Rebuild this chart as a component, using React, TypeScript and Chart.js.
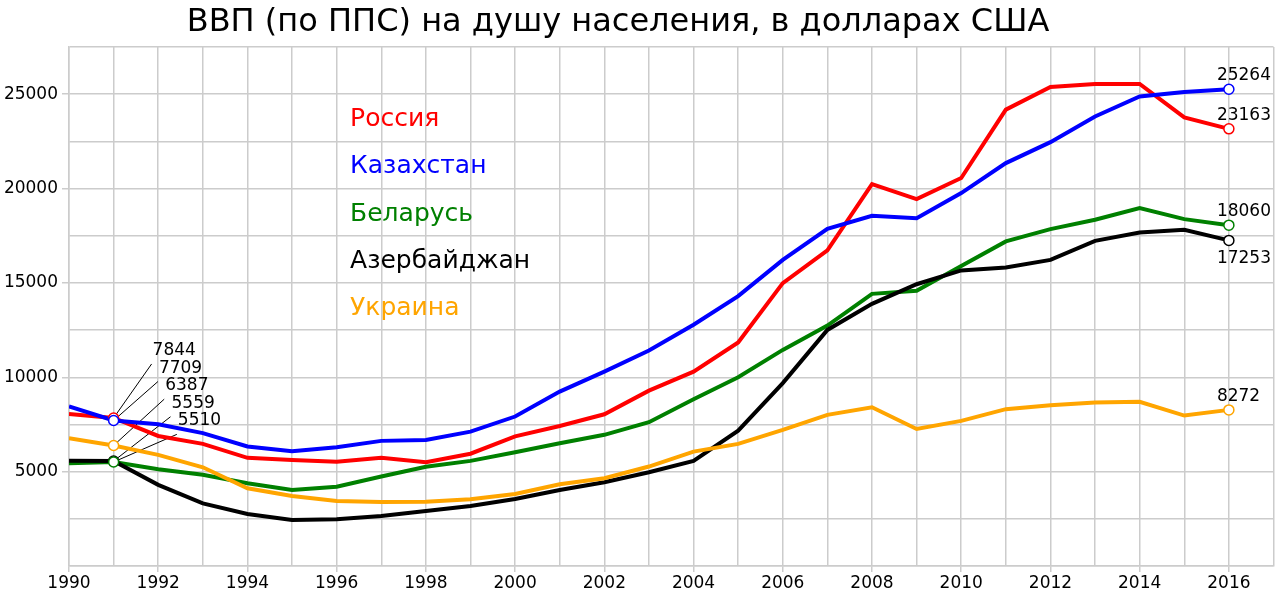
import React, { useEffect, useRef } from "react";
import { Chart, registerables } from "chart.js";

Chart.register(...registerables);

const title = "ВВП (по ППС) на душу населения, в долларах США";
const years = [1990, 1991, 1992, 1993, 1994, 1995, 1996, 1997, 1998, 1999, 2000, 2001, 2002, 2003, 2004, 2005, 2006, 2007, 2008, 2009, 2010, 2011, 2012, 2013, 2014, 2015, 2016];
const russia = [8060, 7844, 6890, 6470, 5730, 5620, 5530, 5740, 5500, 5950, 6870, 7420, 8040, 9290, 10300, 11840, 14990, 16720, 20240, 19440, 20560, 24180, 25380, 25540, 25540, 23770, 23163];
const kazakhstan = [8450, 7709, 7510, 7040, 6330, 6080, 6290, 6630, 6680, 7120, 7920, 9240, 10300, 11420, 12780, 14300, 16220, 17870, 18560, 18430, 19760, 21350, 22460, 23820, 24880, 25110, 25264];
const belarus = [5440, 5510, 5130, 4830, 4380, 4030, 4200, 4740, 5260, 5570, 6030, 6500, 6950, 7620, 8840, 10000, 11450, 12740, 14420, 14580, 15900, 17200, 17850, 18350, 18970, 18380, 18060];
const azerbaijan = [5580, 5559, 4300, 3320, 2760, 2440, 2480, 2650, 2920, 3180, 3550, 4030, 4440, 4970, 5570, 7170, 9690, 12510, 13890, 14930, 15660, 15820, 16220, 17230, 17670, 17810, 17253];
const ukraine = [6770, 6387, 5890, 5230, 4120, 3710, 3450, 3390, 3410, 3540, 3820, 4330, 4650, 5270, 6060, 6470, 7210, 8010, 8410, 7260, 7690, 8310, 8520, 8660, 8700, 7970, 8272];

const seriesNames = ["Россия", "Казахстан", "Беларусь", "Азербайджан", "Украина"];
const seriesColors = ["#ff0000", "#0000ff", "#008000", "#000000", "#ffa500"];
const seriesValues = [russia, kazakhstan, belarus, azerbaijan, ukraine];

// order of the stacked labels at 1991 (series index); markers drawn in this order
const leftLabelOrder = [0, 1, 4, 3, 2];
// right-end labels placed below the point?
const rightLabelBelow = [false, false, false, true, false];
// legend text positions in data units
const legendYear = 1996.3;
const legendValues = [23650, 21150, 18650, 16150, 13650];

const FONT = "'DejaVu Sans', 'Liberation Sans', sans-serif";
const MARK_IDX = [1, 26];

export default function App() {
  const ref = useRef<HTMLCanvasElement | null>(null);
  useEffect(() => {
    document.body.style.margin = "0";
    const canvas = ref.current!;
    const annot = {
      id: "annot",
      beforeDatasetsDraw(chart: any) {
        const ctx = chart.ctx;
        const xs = chart.scales.x;
        const ys = chart.scales.y;
        const first = leftLabelOrder[0];
        const baseY = ys.getPixelForValue(seriesValues[first][1]) - 63;
        ctx.save();
        ctx.strokeStyle = "#000";
        ctx.lineWidth = 1;
        leftLabelOrder.forEach((s, i) => {
          const px = xs.getPixelForValue(years[1]);
          const py = ys.getPixelForValue(seriesValues[s][1]);
          const tx = px + 39 + 6.3 * i;
          const ty = baseY + 17.6 * i;
          ctx.beginPath();
          ctx.moveTo(px, py);
          ctx.lineTo(tx - 1, ty + 9);
          ctx.stroke();
        });
        ctx.restore();
      },
      afterDatasetsDraw(chart: any) {
        const ctx = chart.ctx;
        const xs = chart.scales.x;
        const ys = chart.scales.y;
        ctx.save();
        ctx.fillStyle = "#000";
        ctx.font = `17px ${FONT}`;
        ctx.textAlign = "left";
        ctx.textBaseline = "alphabetic";
        const first = leftLabelOrder[0];
        const baseY = ys.getPixelForValue(seriesValues[first][1]) - 63;
        leftLabelOrder.forEach((s, i) => {
          const px = xs.getPixelForValue(years[1]);
          const tx = px + 39 + 6.3 * i;
          const ty = baseY + 17.6 * i;
          ctx.fillText(String(seriesValues[s][1]), tx, ty);
        });
        const last = years.length - 1;
        seriesValues.forEach((vals, s) => {
          const px = xs.getPixelForValue(years[last]);
          const py = ys.getPixelForValue(vals[last]);
          const ty = rightLabelBelow[s] ? py + 23 : py - 9;
          ctx.fillText(String(vals[last]), px - 12, ty);
        });
        ctx.font = `25px ${FONT}`;
        ctx.textBaseline = "middle";
        seriesNames.forEach((n, s) => {
          ctx.fillStyle = seriesColors[s];
          ctx.fillText(n, xs.getPixelForValue(legendYear), ys.getPixelForValue(legendValues[s]));
        });
        ctx.fillStyle = "#000";
        ctx.font = `32px ${FONT}`;
        ctx.textAlign = "center";
        ctx.fillText(title, 618, 23);
        ctx.restore();
      },
    };

    const lineSets = seriesValues.map((vals, s) => ({
      label: seriesNames[s],
      data: vals.map((v, i) => ({ x: years[i], y: v })),
      borderColor: seriesColors[s],
      backgroundColor: seriesColors[s],
      borderWidth: 4,
      pointRadius: 0,
      tension: 0,
      order: 10 - s,
    }));
    const markerSets = seriesValues.map((vals, s) => ({
      label: seriesNames[s] + " markers",
      data: MARK_IDX.map((i) => ({ x: years[i], y: vals[i] })),
      showLine: false,
      borderColor: seriesColors[s],
      backgroundColor: "#ffffff",
      pointRadius: 5,
      pointBorderWidth: 1.5,
      pointBorderColor: seriesColors[s],
      pointBackgroundColor: "#ffffff",
      order: 5 - leftLabelOrder.indexOf(s),
    }));

    const chart = new Chart(canvas, {
      type: "line",
      data: { datasets: [...lineSets, ...markerSets] as any },
      plugins: [annot],
      options: {
        responsive: false,
        animation: false,
        devicePixelRatio: 1,
        events: [],
        layout: { padding: { top: 47, right: 4, left: 0, bottom: 0 } },
        plugins: { legend: { display: false }, title: { display: false }, tooltip: { enabled: false } },
        scales: {
          x: {
            type: "linear",
            min: 1990,
            max: 2017,
            afterFit: (s: any) => { s.height = 38; },
            border: { color: "#cccccc", width: 1.5 },
            grid: {
              color: "#cccccc",
              lineWidth: 1.5,
              tickLength: 6,
              tickColor: (c: any) => (c.tick && c.tick.value % 2 === 0 ? "#cccccc" : "rgba(0,0,0,0)"),
            },
            ticks: {
              stepSize: 1,
              autoSkip: false,
              maxRotation: 0,
              padding: 1,
              color: "#000",
              font: { family: FONT, size: 17 },
              callback: (v: any) => (Number(v) % 2 === 0 ? String(v) : ""),
            },
          },
          y: {
            type: "linear",
            min: 0,
            max: 27500,
            afterFit: (s: any) => { s.width = 69; },
            border: { color: "#cccccc", width: 1.5 },
            grid: {
              color: "#cccccc",
              lineWidth: 1.5,
              tickLength: 7,
              tickColor: (c: any) => (c.tick && c.tick.value % 5000 === 0 && c.tick.value > 0 ? "#cccccc" : "rgba(0,0,0,0)"),
            },
            ticks: {
              stepSize: 2500,
              autoSkip: false,
              padding: 4,
              color: "#000",
              font: { family: FONT, size: 17 },
              callback: (v: any) => (Number(v) % 5000 === 0 && Number(v) > 0 ? String(v) : ""),
            },
          },
        },
      },
    });
    return () => chart.destroy();
  }, []);
  return <canvas ref={ref} width={1280} height={604} style={{ display: "block" }} />;
}
